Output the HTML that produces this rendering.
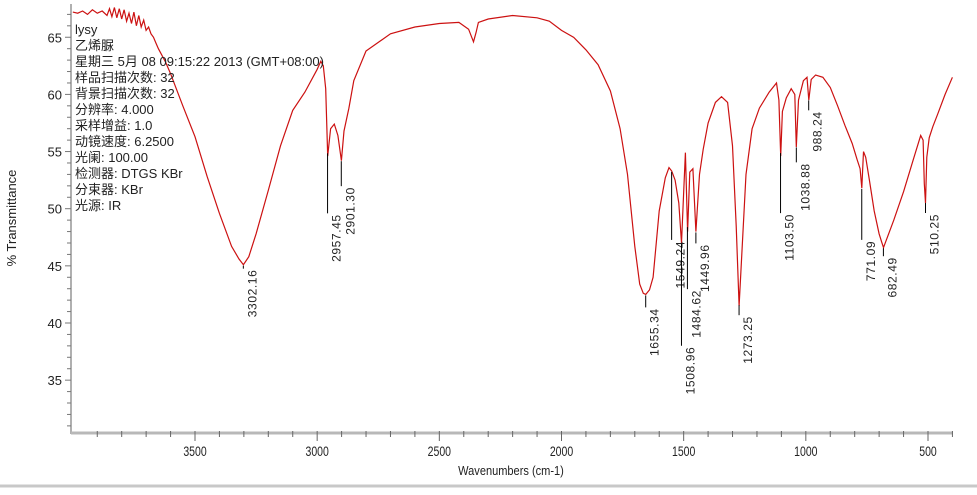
<!DOCTYPE html>
<html><head><meta charset="utf-8"><style>
body{margin:0;background:#fff;width:977px;height:490px;overflow:hidden}
svg{font-family:"Liberation Sans","Noto Sans CJK SC",sans-serif}
</style></head><body>
<svg id="chart" width="977" height="490" xmlns="http://www.w3.org/2000/svg">
<rect x="0" y="0" width="977" height="490" fill="#fff"/>
<line x1="0" y1="486" x2="977" y2="486" stroke="#c8c8c8" stroke-width="3"/>
<g id="axes"></g>
<g id="series"></g>
<g id="peaks"></g>
<g id="info" font-size="13" fill="#222">
<text x="75" y="34">lysy</text>
<text x="75" y="50">乙烯脲</text>
<text x="75" y="66">星期三 5月 08 09:15:22 2013 (GMT+08:00)</text>
<text x="75" y="82">样品扫描次数: 32</text>
<text x="75" y="98">背景扫描次数: 32</text>
<text x="75" y="114">分辨率:  4.000</text>
<text x="75" y="130">采样增益: 1.0</text>
<text x="75" y="146">动镜速度: 6.2500</text>
<text x="75" y="162">光阑: 100.00</text>
<text x="75" y="178">检测器: DTGS KBr</text>
<text x="75" y="194">分束器: KBr</text>
<text x="75" y="210">光源: IR</text>
</g>
<text transform="translate(16,218) rotate(-90)" text-anchor="middle" font-size="13" fill="#222">% Transmittance</text>
<text x="511" y="475" text-anchor="middle" font-size="13" fill="#222" transform="translate(511,0) scale(0.85,1) translate(-511,0)">Wavenumbers (cm-1)</text>
</svg>
<script>
const wavenumbers=[4000,3980,3960,3940,3920,3900,3880,3860,3850,3840,3830,3820,3810,3800,3790,3780,3770,3760,3750,3740,3730,3720,3710,3700,3690,3680,3670,3660,3650,3620,3600,3550,3500,3450,3400,3350,3320,3302,3280,3250,3200,3150,3100,3050,3000,2985,2975,2965,2957,2945,2930,2915,2901,2890,2870,2850,2800,2700,2600,2500,2420,2380,2360,2350,2340,2300,2200,2100,2050,2000,1950,1900,1850,1800,1760,1730,1700,1680,1665,1655,1640,1625,1600,1575,1560,1549,1535,1520,1509,1500,1493,1484,1475,1462,1450,1435,1420,1400,1370,1345,1320,1300,1285,1273,1262,1245,1220,1190,1150,1120,1110,1103,1096,1080,1060,1045,1039,1030,1010,995,988,978,960,930,900,870,840,810,790,778,771,764,755,740,720,700,690,682,670,640,600,560,530,520,515,510,505,495,480,460,430,400];
const transmittance=[67.2,67.1,67.3,67.0,67.4,67.1,67.3,66.9,67.5,66.8,67.6,66.7,67.5,66.6,67.4,66.4,67.1,66.2,67.2,66.0,66.9,65.9,66.5,65.6,65.9,65.3,65.0,64.5,64.0,62.8,61.8,59.0,56.3,52.8,49.6,46.7,45.6,45.1,45.8,47.8,51.6,55.5,58.6,60.2,62.2,62.9,62.5,60.5,54.6,57.0,57.4,56.4,54.2,56.8,58.8,61.2,63.8,65.3,65.9,66.2,66.3,65.7,64.6,65.4,66.3,66.6,66.9,66.7,66.4,65.6,65.0,63.9,62.6,60.3,57.0,53.0,46.7,43.4,42.6,42.5,42.9,44.0,49.8,52.7,53.6,53.3,52.5,50.5,47.0,51.5,54.9,48.0,53.2,53.5,48.0,53.0,55.2,57.5,59.3,59.8,59.3,55.5,48.5,41.5,46.0,53.0,57.0,58.8,60.2,61.0,59.5,54.6,58.5,59.7,60.5,60.0,55.4,59.5,61.2,61.5,59.5,61.3,61.7,61.5,60.6,59.0,57.3,55.7,54.3,53.5,51.8,55.0,54.5,52.5,49.8,47.8,47.1,46.6,47.3,49.0,51.5,54.3,56.4,56.0,52.2,50.5,54.5,56.2,57.2,58.3,60.0,61.5];
const yTicks=[35,40,45,50,55,60,65];
const xTicks=[3500,3000,2500,2000,1500,1000,500];
const peakWavenumbers=[3302.16,2957.45,2901.30,1655.34,1549.24,1508.96,1484.62,1449.96,1273.25,1103.50,1038.88,988.24,771.09,682.49,510.25];
const peakLabelLen=[3,60,25,12,68,102,62,11,10,60,15,10,51,8,10];

const X0=195,PXW=0.24433;
function xs(w){return X0+(3500-w)*PXW;}
function ys(v){return 323-(v-40)*11.43;}
const NS="http://www.w3.org/2000/svg";
function mk(tag,attrs,parent){const e=document.createElementNS(NS,tag);for(const k in attrs)e.setAttribute(k,attrs[k]);parent.appendChild(e);return e;}
const axes=document.getElementById('axes');
let ya=mk('line',{x1:71,y1:4,x2:71,y2:434,stroke:'#b0b0b0','stroke-width':2},axes);


for(let v=31;v<=67;v++){
  const t=mk('line',{x1:v%5===0?65:67,y1:ys(v),x2:71,y2:ys(v),stroke:'#777','stroke-width':1},axes);
  
  
}
yTicks.forEach(v=>{
  const t=mk('text',{x:62,y:ys(v)+5,'text-anchor':'end','font-size':13,fill:'#222'},axes);
  t.textContent=v;
  
  
});
let xa=mk('line',{x1:71,y1:433,x2:953,y2:433,stroke:'#b8b8b8','stroke-width':3},axes);


for(let w=3900;w>=400;w-=100){
  const t=mk('line',{x1:xs(w),y1:431,x2:xs(w),y2:w%500===0?441:437,stroke:'#666','stroke-width':1},axes);
  
  
}
xTicks.forEach(w=>{
  const t=mk('text',{x:0,y:0,'text-anchor':'middle','font-size':14,fill:'#222',transform:`translate(${xs(w)},456) scale(0.75,1)`},axes);
  t.textContent=w;
  
  
});
let d='';
wavenumbers.forEach((w,i)=>{d+=(i?'L':'M')+xs(w).toFixed(1)+','+ys(transmittance[i]).toFixed(1);});
const p=mk('path',{d:d,fill:'none',stroke:'#cc1111','stroke-width':1.2},document.getElementById('series'));


function interp(w){for(let i=0;i<wavenumbers.length-1;i++){const a=wavenumbers[i],b=wavenumbers[i+1];if(w<=a&&w>=b){const f=(a-w)/(a-b);return transmittance[i]+f*(transmittance[i+1]-transmittance[i]);}}return 50;}
const pk=document.getElementById('peaks');
peakWavenumbers.forEach((w,i)=>{
  const x=xs(w),y0=ys(interp(w))+1,y1=y0+peakLabelLen[i];
  const l=mk('line',{x1:x,y1:y0,x2:x,y2:y1,stroke:'#000','stroke-width':1},pk);
  
  
  const t=mk('text',{x:0,y:0,'text-anchor':'end','font-size':12,fill:'#222','letter-spacing':'0.6',transform:`translate(${x+13},${y1+1}) rotate(-90)`},pk);
  t.textContent=w.toFixed(2);
  
  
});
</script>
</body></html>
